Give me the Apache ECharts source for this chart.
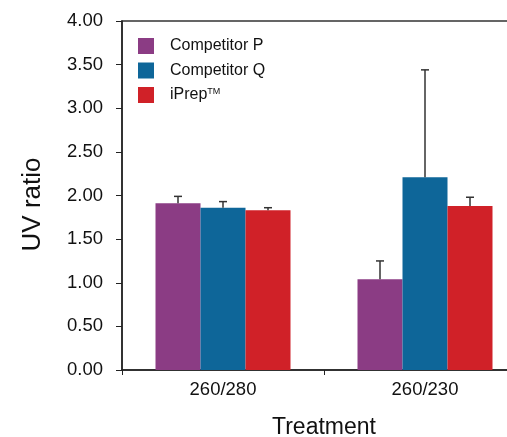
<!DOCTYPE html>
<html><head><meta charset="utf-8">
<script src="https://cdn.jsdelivr.net/npm/echarts@6/dist/echarts.min.js"></script>
<style>html,body{margin:0;padding:0;background:#fff}#c{width:507px;height:437px}</style>
</head><body><div id="c"></div>
<script>
var categories = ['260/280', '260/230'];
var seriesNames = ['Competitor P', 'Competitor Q', 'iPrep'];
var valuesP = [1.91, 1.04];
var valuesQ = [1.86, 2.21];
var valuesI = [1.83, 1.88];
var errorsP = [0.08, 0.21];
var errorsQ = [0.07, 1.23];
var errorsI = [0.03, 0.10];
var yTicks = [0, 0.5, 1, 1.5, 2, 2.5, 3, 3.5, 4];

var colors = ['#8B3C84', '#0E6699', '#D02128'];
var FONT = 'Liberation Sans, Arial, Helvetica, sans-serif';
var BW = 45;
var allValues = [valuesP, valuesQ, valuesI];
var allErrors = [errorsP, errorsQ, errorsI];

var series = [];
allValues.forEach(function (vals, s) {
  series.push({
    name: seriesNames[s], type: 'bar', data: vals, barWidth: BW, barGap: '0%',
    itemStyle: { color: colors[s] }, z: 2
  });
});
allValues.forEach(function (vals, s) {
  series.push({
    type: 'custom', z: 3, silent: true,
    data: vals.map(function (v, i) { return [i, v, v + allErrors[s][i]]; }),
    renderItem: function (params, api) {
      var base = api.coord([api.value(0), api.value(1)]);
      var top = api.coord([api.value(0), api.value(2)]);
      var x = base[0] + (s - 1) * BW;
      return {
        type: 'group',
        children: [
          { type: 'line', shape: { x1: x, y1: base[1], x2: x, y2: top[1] }, style: { stroke: '#333', lineWidth: 1.5 } },
          { type: 'line', shape: { x1: x - 4, y1: top[1], x2: x + 4, y2: top[1] }, style: { stroke: '#333', lineWidth: 1.5 } }
        ]
      };
    }
  });
});

var chart = echarts.init(document.getElementById('c'), null, { renderer: 'canvas' });
chart.setOption({
  animation: false,
  textStyle: { fontFamily: FONT },
  grid: { left: 122, top: 21, width: 404, height: 349, outerBoundsMode: 'none', containLabel: false,
    show: true, borderColor: '#333', borderWidth: 1.5, backgroundColor: 'transparent' },
  legend: {
    orient: 'vertical', left: 138, top: 38, padding: 0,
    itemWidth: 16, itemHeight: 16, itemGap: 8.5,
    icon: 'rect',
    data: seriesNames,
    formatter: function (n) { return n === 'iPrep' ? 'iPrep{tm|TM}' : n; },
    textStyle: {
      fontFamily: FONT, fontSize: 16, color: '#111', lineHeight: 16, padding: [0, 0, 0, 11],
      rich: { tm: { fontSize: 9, verticalAlign: 'top', lineHeight: 16, padding: [0, 0, 6, 0], color: '#111' } }
    }
  },
  xAxis: {
    type: 'category', data: categories,
    axisLine: { lineStyle: { color: '#222', width: 1.5 } },
    axisTick: { show: true, length: 5, lineStyle: { color: '#222' } },
    axisLabel: { fontSize: 18.5, color: '#111', margin: 10, fontFamily: FONT },
    name: 'Treatment', nameLocation: 'middle', nameGap: 46,
    nameTextStyle: { fontSize: 23, color: '#111', fontFamily: FONT }
  },
  yAxis: {
    type: 'value', min: 0, max: 4, interval: 0.5,
    splitLine: { show: false },
    axisLine: { show: true, lineStyle: { color: '#222', width: 1.5 } },
    axisTick: { show: true, length: 6, lineStyle: { color: '#222' } },
    axisLabel: { fontSize: 18.5, color: '#111', margin: 19, fontFamily: FONT,
      formatter: function (v) { return yTicks.indexOf(v) >= 0 ? v.toFixed(2) : ''; } },
    name: 'UV ratio', nameLocation: 'middle', nameGap: 76, nameRotate: 90,
    nameTextStyle: { fontSize: 26, color: '#111', fontFamily: FONT, padding: [0, 18, 0, 0] }
  },
  series: series
});
</script></body></html>
